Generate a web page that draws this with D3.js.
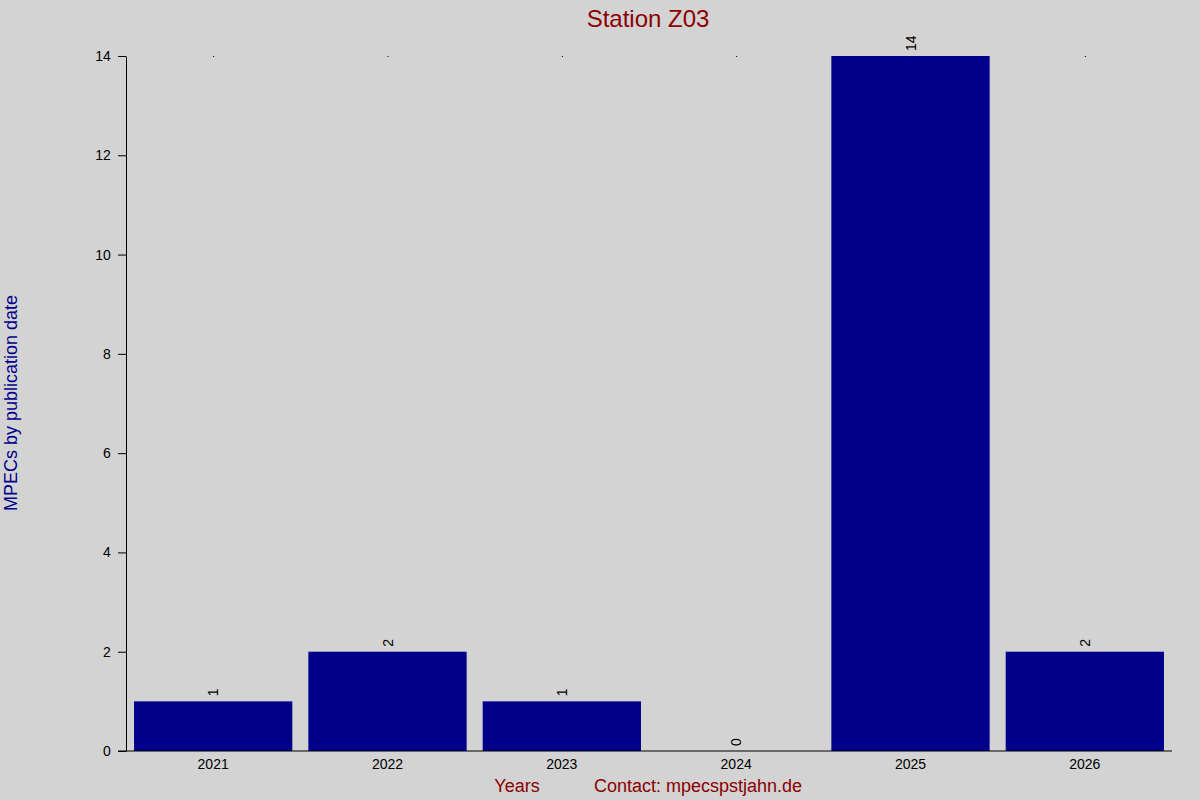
<!DOCTYPE html>
<html>
<head>
<meta charset="utf-8">
<script src="https://cdn.jsdelivr.net/npm/d3@7"></script>
<style>
  body { margin: 0; background: #d3d3d3; }
  text { font-family: "Liberation Sans", Arial, sans-serif; }
</style>
</head>
<body>
<svg></svg>
<script>
const years = ["2021", "2022", "2023", "2024", "2025", "2026"];
const counts = [1, 2, 1, 0, 14, 2];
const yTicks = [0, 2, 4, 6, 8, 10, 12, 14];

const width = 1200, height = 800;
const svg = d3.select("svg").attr("width", width).attr("height", height);
svg.append("rect").attr("width", width).attr("height", height).attr("fill", "#d3d3d3");

const plotLeft = 126, plotRight = 1172, plotTop = 56, plotBottom = 751;

const x = d3.scaleBand().domain(years).range([plotLeft, plotRight]).paddingInner(0.092).paddingOuter(0.046);
const y = d3.scaleLinear().domain([0, 14]).range([plotBottom, plotTop]);

// bars
svg.selectAll(".bar")
    .data(years)
    .enter().append("rect")
    .attr("x", d => x(d))
    .attr("y", (d, i) => y(counts[i]))
    .attr("width", x.bandwidth())
    .attr("height", (d, i) => plotBottom - y(counts[i]))
    .attr("fill", "#00008b");

// value labels, rotated
svg.selectAll(".val")
    .data(years)
    .enter().append("text")
    .attr("transform", (d, i) => `translate(${x(d) + x.bandwidth() / 2 + 5},${y(counts[i]) - 5}) rotate(-90)`)
    .attr("font-size", 14)
    .attr("fill", "#000")
    .text((d, i) => counts[i]);

// tiny marks at top
svg.selectAll(".dot")
    .data(years)
    .enter().append("rect")
    .attr("x", d => x(d) + x.bandwidth() / 2)
    .attr("y", plotTop)
    .attr("width", 1).attr("height", 1)
    .attr("fill", "#000");

// y axis
const yAxis = svg.append("g")
    .attr("transform", `translate(${plotLeft},0)`)
    .call(d3.axisLeft(y).tickValues(yTicks).tickSize(8).tickSizeOuter(0));
yAxis.select(".domain").attr("stroke", "#000");
yAxis.selectAll("text").attr("font-size", 14).attr("font-family", "Liberation Sans, Arial, sans-serif").attr("fill", "#000").attr("dx", "-0.3em");

// x axis
const xAxis = svg.append("g")
    .attr("transform", `translate(0,${plotBottom})`)
    .call(d3.axisBottom(x).tickSize(0).tickSizeOuter(0));
xAxis.select(".domain").remove();
svg.append("line").attr("x1", plotLeft - 8).attr("x2", plotRight).attr("y1", plotBottom).attr("y2", plotBottom).attr("stroke", "#000");
xAxis.selectAll("text").attr("font-size", 14).attr("font-family", "Liberation Sans, Arial, sans-serif").attr("fill", "#000").attr("dy", "1.1em");

// titles
svg.append("text").attr("x", 648).attr("y", 27).attr("text-anchor", "middle")
    .attr("font-size", 24).attr("fill", "#8b0000").text("Station Z03");
svg.append("text").attr("transform", "translate(17,403) rotate(-90)").attr("text-anchor", "middle")
    .attr("font-size", 18).attr("fill", "#00008b").text("MPECs by publication date");
svg.append("text").attr("x", 517).attr("y", 792).attr("text-anchor", "middle")
    .attr("font-size", 18).attr("fill", "#8b0000").text("Years");
svg.append("text").attr("x", 698).attr("y", 792).attr("text-anchor", "middle")
    .attr("font-size", 18).attr("fill", "#8b0000").text("Contact: mpecspstjahn.de");
</script>
</body>
</html>
